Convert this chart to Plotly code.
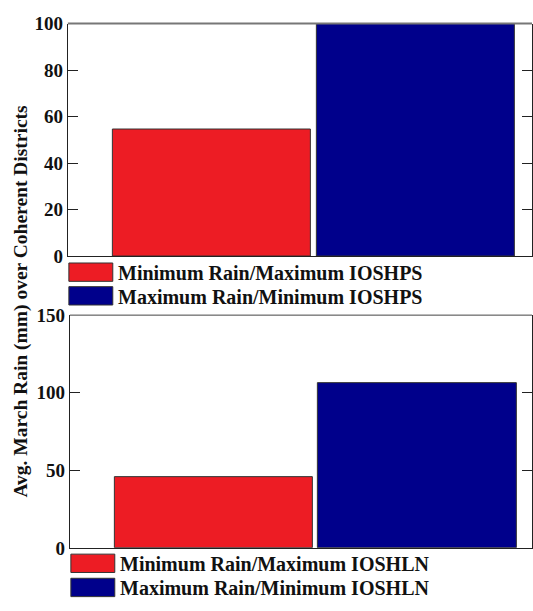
import plotly.graph_objects as go

categories = [1, 2]
top_values = [54.5, 100]
bottom_values = [45.5, 106]
top_labels = ["Minimum Rain/Maximum IOSHPS", "Maximum Rain/Minimum IOSHPS"]
bottom_labels = ["Minimum Rain/Maximum IOSHLN", "Maximum Rain/Minimum IOSHLN"]
colors = ["#ED1C24", "#00008B"]
top_ticks = [0, 20, 40, 60, 80, 100]
bottom_ticks = [0, 50, 100, 150]
y_title = "Avg. March Rain (mm) over Coherent Districts"

W, H = 533, 611
FONT = "Liberation Serif"

def py(p):
    return 1 - p / H

def px(p):
    return p / W

fig = go.Figure()
for i in range(2):
    fig.add_trace(go.Bar(x=[categories[i]], y=[top_values[i]], width=0.975,
                         marker=dict(color=colors[i], line=dict(color="#333333", width=1)),
                         xaxis="x", yaxis="y", showlegend=False))
    fig.add_trace(go.Bar(x=[categories[i]], y=[bottom_values[i]], width=0.975,
                         marker=dict(color=colors[i], line=dict(color="#333333", width=1)),
                         xaxis="x2", yaxis="y2", showlegend=False))

axis_font = dict(family=FONT, size=19, color="#111111", weight="bold")
common_y = dict(showgrid=False, zeroline=False, showline=True, linecolor="#222222", linewidth=1,
                ticks="inside", ticklen=10, tickcolor="#222222", mirror="ticks",
                tickfont=axis_font, fixedrange=True)
common_x = dict(showgrid=False, zeroline=False, showline=True, linecolor="#222222", linewidth=1,
                showticklabels=False, ticks="", fixedrange=True)

fig.update_layout(
    width=W, height=H, margin=dict(l=0, r=0, t=0, b=0),
    plot_bgcolor="white", paper_bgcolor="white", bargap=0,
    xaxis=dict(domain=[px(68), 1], range=[0.292, 2.571], anchor="y", **common_x),
    yaxis=dict(domain=[py(255), py(14)], range=[0, 100], tickvals=top_ticks, anchor="x", **common_y),
    xaxis2=dict(domain=[px(70), 1], range=[0.293, 2.563], anchor="y2", **common_x),
    yaxis2=dict(domain=[py(557), py(316)], range=[0, 150], tickvals=bottom_ticks, anchor="x2", **common_y),
)

shapes = []
annotations = []
shapes.append(dict(type="line", xref="paper", yref="paper", x0=px(68), x1=1, y0=py(14), y1=py(14),
                   line=dict(color="#777777", width=2)))
shapes.append(dict(type="line", xref="paper", yref="paper", x0=px(70), x1=1, y0=py(316), y1=py(316),
                   line=dict(color="#444444", width=1)))

legend_rows = [(top_labels, [271.5, 296], 69), (bottom_labels, [573, 598], 71)]
for labels, ys, x0 in legend_rows:
    for lab, col, yc in zip(labels, colors, ys):
        shapes.append(dict(type="rect", xref="paper", yref="paper",
                           x0=px(x0), x1=px(x0 + 44), y0=py(yc + 9.5), y1=py(yc - 9.5),
                           fillcolor=col, line=dict(color="#333333", width=1)))
        annotations.append(dict(text="<b>%s</b>" % lab, xref="paper", yref="paper",
                                x=px(x0 + 47), y=py(yc + 1), xanchor="left", yanchor="middle",
                                showarrow=False, font=dict(family=FONT, size=20, color="#111111")))

annotations.append(dict(text="<b>%s</b>" % y_title, xref="paper", yref="paper", x=px(21), y=py(301),
                        textangle=-90, showarrow=False, xanchor="center", yanchor="middle",
                        font=dict(family=FONT, size=19.5, color="#111111")))

fig.update_layout(shapes=shapes, annotations=annotations)
fig.write_html("out.html")
